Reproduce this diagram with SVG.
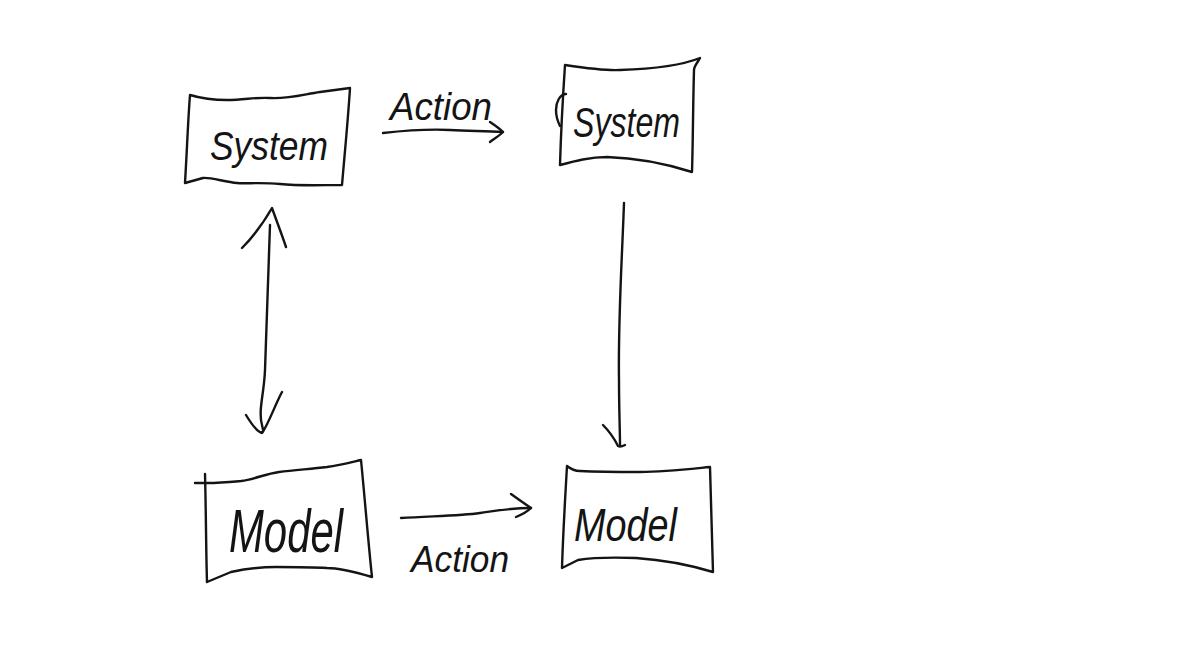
<svg xmlns="http://www.w3.org/2000/svg" width="1188" height="652" viewBox="0 0 1188 652">
<style>
.ink{fill:none;stroke:#141414;stroke-width:2.4;stroke-linecap:round;stroke-linejoin:round}
.lbl{font-family:"Liberation Sans","DejaVu Sans",sans-serif;font-style:italic;fill:#141414}
</style>
<rect width="1188" height="652" fill="#ffffff"/>
<g id="system-1">
<path class="ink" d="M190,95 C200,98 215,100 227,100 C245,100 255,97 270,98 C290,99 305,94 320,92 L350,88 C348,120 345,150 342,185 C320,185 300,186 280,184 C260,182 245,184 237,183 C225,182 210,177 203,178 L185,183 C187,150 188,120 190,95 Z"/>
<text class="lbl" x="210" y="160" font-size="40" textLength="118" lengthAdjust="spacingAndGlyphs">System</text>
</g>
<g id="system-2">
<path class="ink" d="M565,65 C585,68 605,71 620,70 C650,69 680,66 700,58 C698,62 694,66 694,70 C693,105 693,140 692,172 C670,165 640,158 607,157 C590,157 575,161 560,165 C561,130 563,95 565,65 Z"/>
<path class="ink" d="M566,94 C560,94 556,102 556,110 C556,117 558,122 560,126"/>
<text class="lbl" x="573" y="137" font-size="42" textLength="107" lengthAdjust="spacingAndGlyphs">System</text>
</g>
<g id="model-1">
<path class="ink" d="M195,483 L207,483 C220,483 230,482 241,481 C255,479 265,474 279,472 C295,470 310,469 327,467 C340,465 352,462 361,460 C365,500 368,540 372,577 C355,572 340,568 327,568 C310,567 290,567 276,567 C260,567 245,569 231,572 L207,582"/>
<path class="ink" d="M205,474 C206,510 206,550 207,582"/>
<text class="lbl" x="229" y="552" font-size="62" textLength="114" lengthAdjust="spacingAndGlyphs">Model</text>
</g>
<g id="model-2">
<path class="ink" d="M567,466 C572,470 575,471 580,471 C600,472 620,472 640,472 C665,472 690,469 710,467 C711,500 712,540 713,572 C690,565 665,560 636,558 C610,557 590,558 578,560 L562,568 C563,535 565,500 567,466 Z"/>
<text class="lbl" x="574" y="541" font-size="46" textLength="103" lengthAdjust="spacingAndGlyphs">Model</text>
</g>
<g id="connectors">
<path class="ink" d="M383,133 C410,130 430,129 450,130 C470,131 485,131 503,132"/>
<path class="ink" d="M490,122 C496,126 500,129 503,132 C499,136 494,139 490,142"/>
<text class="lbl" x="390" y="120" font-size="38" textLength="102" lengthAdjust="spacingAndGlyphs">Action</text>
<path class="ink" d="M270,225 C268,280 266,330 265,370 C264,395 258,410 262,425 C263,430 264,432 262,432"/>
<path class="ink" d="M242,248 C255,235 265,220 272,208 C277,222 282,235 286,247"/>
<path class="ink" d="M246,415 C252,425 258,432 262,433 C268,425 275,405 282,392"/>
<path class="ink" d="M624,203 C622,260 618,320 619,380 C619,410 620,430 620,445"/>
<path class="ink" d="M603,425 C610,432 615,440 618,446 C620,447 623,446 625,445"/>
<path class="ink" d="M401,518 C430,516 460,516 480,513 C495,511 510,508 531,508"/>
<path class="ink" d="M511,494 C518,499 525,504 531,508 C527,512 521,515 516,517"/>
<text class="lbl" x="411" y="572" font-size="36" textLength="98" lengthAdjust="spacingAndGlyphs">Action</text>
</g>
</svg>
